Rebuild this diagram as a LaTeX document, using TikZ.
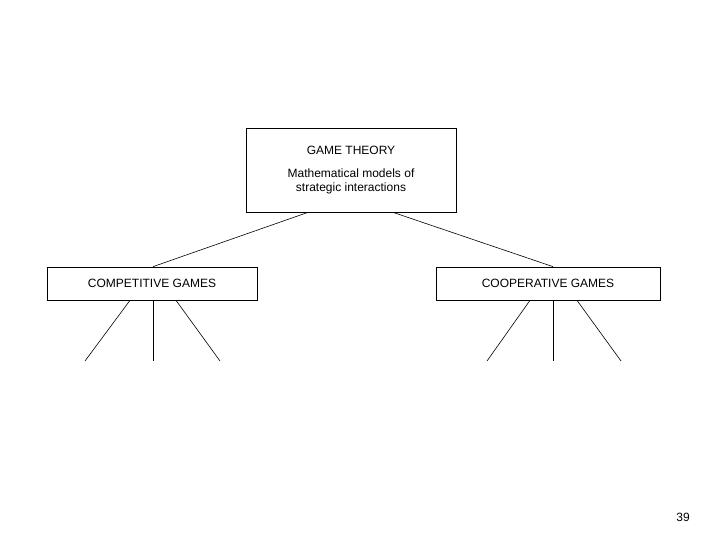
\documentclass[tikz,border=0pt]{standalone}
\usepackage{fontspec}
\setmainfont{Liberation Sans}
\usetikzlibrary{calc}
\begin{document}
\begin{tikzpicture}[x=1pt,y=-1pt,
  box/.style={draw,line width=0.7pt,inner sep=0pt,font=\fontsize{12}{14}\selectfont},
  link/.style={line width=0.6pt}]
\useasboundingbox (0,0) rectangle (720,540);
\node[box,minimum width=210pt,minimum height=84pt,align=center] (top) at (351,170)
 {GAME THEORY\\[9pt]Mathematical models of\\strategic interactions};
\node[box,minimum width=210pt,minimum height=33pt] (comp) at (152,283.5) {COMPETITIVE GAMES};
\node[box,minimum width=224pt,minimum height=33pt] (coop) at (548,283.5) {COOPERATIVE GAMES};
\coordinate (c1) at (85,361); \coordinate (c2) at (153,361); \coordinate (c3) at (220,361);
\coordinate (p1) at (487,361); \coordinate (p2) at (553,361); \coordinate (p3) at (621,361);
\draw[link] ($(top.south)+(-43,0)$) -- ($(comp.north)+(1,0)$);
\draw[link] ($(top.south)+(42,0)$) -- ($(coop.north)+(5,0)$);
\draw[link] ($(comp.south)+(-22,0)$) -- (c1);
\draw[link] ($(comp.south)+(1,0)$) -- (c2);
\draw[link] ($(comp.south)+(24,0)$) -- (c3);
\draw[link] ($(coop.south)+(-18,0)$) -- (p1);
\draw[link] ($(coop.south)+(5,0)$) -- (p2);
\draw[link] ($(coop.south)+(29,0)$) -- (p3);
\node[font=\fontsize{12}{14}\selectfont] (pg) at (683,517) {39};
\end{tikzpicture}
\end{document}
